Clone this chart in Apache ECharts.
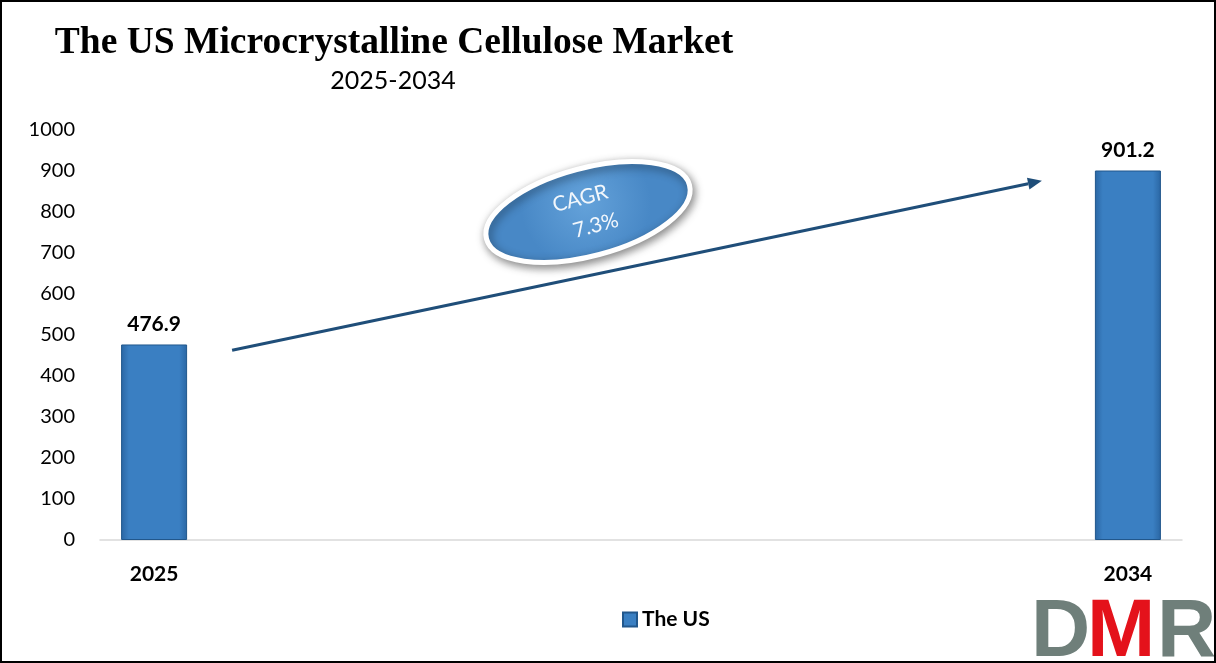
<!DOCTYPE html>
<html>
<head>
<meta charset="utf-8">
<script src="https://cdn.jsdelivr.net/npm/echarts@6/dist/echarts.min.js"></script>
<style>
  html, body { margin: 0; padding: 0; background: #fff; }
  #main { width: 1216px; height: 663px; box-sizing: border-box; border: 2px solid #000; }
</style>
</head>
<body>
<div id="main"></div>
<script>
// chart data
const years = ['2025', '2026', '2027', '2028', '2029', '2030', '2031', '2032', '2033', '2034']
const usValues = [476.9, null, null, null, null, null, null, null, null, 901.2]
const seriesName = 'The US'
const cagrText = ['CAGR', '7.3%']

const chart = echarts.init(document.getElementById('main'))

const barColor = new echarts.graphic.LinearGradient(0, 0, 1, 0, [
  {offset: 0, color: '#2a66a3'},
  {offset: 0.12, color: '#3a7fc2'},
  {offset: 0.88, color: '#3a7fc2'},
  {offset: 1, color: '#2a66a3'}
])

const option = {
  animation: false,
  title: [
    {
      text: 'The US Microcrystalline Cellulose Market',
      left: 387,
      top: 17,
      textAlign: 'center',
      textStyle: {fontFamily: 'Liberation Serif', fontWeight: 'bold', fontSize: 37.5, color: '#000'}
    },
    {
      text: '2025-2034',
      left: 386,
      top: 61,
      textAlign: 'center',
      textStyle: {fontFamily: 'Lato', fontWeight: 'normal', fontSize: 25, color: '#000'}
    }
  ],
  grid: {left: 98, right: 32, top: 128, bottom: 121},
  legend: {
    data: [seriesName],
    left: 615,
    top: 602,
    icon: 'rect',
    itemWidth: 14,
    itemHeight: 14,
    textStyle: {fontFamily: 'Lato', fontWeight: 'bold', fontSize: 21, color: '#000'}
  },
  xAxis: {
    type: 'category',
    data: years,
    axisTick: {show: false},
    axisLine: {lineStyle: {color: '#d9d9d9', width: 1.5}},
    axisLabel: {
      interval: (idx) => idx === 0 || idx === years.length - 1,
      margin: 24,
      fontFamily: 'Lato',
      fontWeight: 'bold',
      fontSize: 21,
      color: '#000'
    }
  },
  yAxis: {
    type: 'value',
    min: 0,
    max: 1000,
    interval: 100,
    splitLine: {show: false},
    axisLine: {show: false},
    axisTick: {show: false},
    axisLabel: {margin: 25, fontFamily: 'Lato', fontSize: 20, color: '#000', formatter: (v) => String(v)}
  },
  series: [
    {
      name: seriesName,
      type: 'bar',
      barWidth: '61%',
      data: usValues,
      itemStyle: {color: barColor, borderColor: '#21578c', borderWidth: 1},
      label: {
        show: true,
        position: 'top',
        distance: 10,
        fontFamily: 'Lato',
        fontWeight: 'bold',
        fontSize: 21,
        color: '#000'
      }
    }
  ]
}

chart.setOption(option)

// trend arrow + CAGR bubble, placed from data coordinates
const p0 = chart.convertToPixel({xAxisIndex: 0, yAxisIndex: 0}, [0, 463])
const p1 = chart.convertToPixel({xAxisIndex: 0, yAxisIndex: 0}, [years.length - 1, 876])
const x0 = p0[0] + 78, y0 = p0[1]
const x1 = p1[0] - 86, y1 = p1[1]
const ang = Math.atan2(y1 - y0, x1 - x0)
const headLen = 14, headW = 6
const bx = x1 - headLen * Math.cos(ang), by = y1 - headLen * Math.sin(ang)
const nx = -Math.sin(ang) * headW, ny = Math.cos(ang) * headW

chart.setOption({
  graphic: [
    {
      type: 'line',
      shape: {x1: x0, y1: y0, x2: bx, y2: by},
      style: {stroke: '#1f4e79', lineWidth: 3}
    },
    {
      type: 'polygon',
      shape: {points: [[x1, y1], [bx + nx, by + ny], [bx - nx, by - ny]]},
      style: {fill: '#1f4e79'}
    },
    {
      type: 'group',
      x: 586,
      y: 210,
      rotation: 0.26,
      children: [
        {
          type: 'ellipse',
          shape: {cx: 0, cy: 0, rx: 105, ry: 44},
          style: {
            fill: new echarts.graphic.RadialGradient(0.5, 0.4, 0.7, [
              {offset: 0, color: '#64a2da'},
              {offset: 1, color: '#4888c6'}
            ]),
            stroke: '#fff',
            lineWidth: 5,
            shadowBlur: 10,
            shadowColor: 'rgba(0,0,0,0.45)',
            shadowOffsetX: 2,
            shadowOffsetY: 3
          }
        },
        {
          type: 'text',
          x: -4,
          y: -15,
          style: {text: cagrText[0], fill: '#f2f7fc', fontFamily: 'Lato', fontSize: 21, align: 'center', verticalAlign: 'middle'}
        },
        {
          type: 'text',
          x: 4,
          y: 15,
          style: {text: cagrText[1], fill: '#f2f7fc', fontFamily: 'Lato', fontSize: 21, align: 'center', verticalAlign: 'middle'}
        }
      ]
    },
    // DMR logo
    {
      type: 'text', x: 1029, y: 590,
      style: {text: 'D', fill: '#6f7f7a', fontFamily: 'Liberation Sans', fontWeight: 'bold', fontSize: 82}
    },
    {
      type: 'text', x: 1085, y: 590,
      style: {text: 'M', fill: '#e4121b', fontFamily: 'Liberation Sans', fontWeight: 'bold', fontSize: 82}
    },
    {
      type: 'text', x: 1155, y: 590,
      style: {text: 'R', fill: '#6f7f7a', fontFamily: 'Liberation Sans', fontWeight: 'bold', fontSize: 82}
    }
  ]
})
</script>
</body>
</html>
